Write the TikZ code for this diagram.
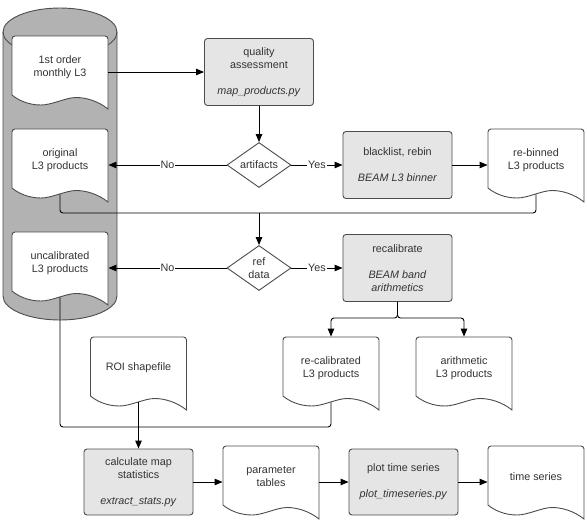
\documentclass[tikz,border=0pt]{standalone}
\usepackage{fontspec}
\setmainfont{Liberation Sans}
\usetikzlibrary{arrows.meta,shapes.geometric}

\tikzset{
  every node/.style={font=\fontsize{10.8}{13}\selectfont, text=black!80, align=center},
  process/.style={draw=black!70, fill=black!10, rounded corners=3pt, line width=0.9pt,
    minimum width=109pt, minimum height=67pt, inner sep=0pt},
  decision/.style={diamond, draw=black!70, fill=white, line width=0.9pt, aspect=1.42,
    minimum width=64pt, minimum height=45pt, inner sep=0pt},
  doctext/.style={minimum width=96pt, minimum height=62pt, inner sep=0pt},
  docline/.style={draw=black!70, fill=white, line width=0.9pt},
  line/.style={draw=black, line width=0.9pt},
  arr/.style={line, -{Triangle[length=8pt,width=6.5pt]}},
  answer/.style={fill=white, inner sep=1pt, midway}
}

% document shape: name, x, y (text centre), text
\newcommand{\docnode}[4]{%
  \draw[docline, shift={(#2,#3)}] (-48,-28) -- (-48,28)
    arc[start angle=180, end angle=90, radius=3pt] -- (45,31)
    arc[start angle=90, end angle=0, radius=3pt] -- (48,-42)
    .. controls (38,-34) and (26,-30.5) .. (16,-30.5)
    .. controls (6,-30.5) and (-8,-38) .. (-19,-38)
    .. controls (-32,-38) and (-42,-33) .. (-48,-28) -- cycle
    (0,0) node[doctext] (#1) {#4};
}

\begin{document}
\begin{tikzpicture}[x=1pt, y=1pt]
\useasboundingbox (0,0) rectangle (587,-523);

% storage cylinder
\draw[draw=black!70, fill=black!30, line width=0.9pt] (3,-32) -- (3,-296)
  arc[start angle=180, end angle=360, x radius=57pt, y radius=24pt] -- (117,-32)
  arc[start angle=0, end angle=180, x radius=57pt, y radius=24pt] -- cycle;
\draw[black!70, line width=0.9pt] (3,-32)
  arc[start angle=180, end angle=360, x radius=57pt, y radius=24pt];

% documents
\foreach \nm/\x/\y/\txt in {
  monthly/60/-67/{1st order\\monthly L3},
  original/60/-160/{original\\L3 products},
  uncal/60/-263/{uncalibrated\\L3 products},
  rebinned/536/-160/{re-binned\\L3 products},
  roi/138.5/-368/{ROI shapefile},
  recalib/331/-368/{re-calibrated\\L3 products},
  arith/464/-368/{arithmetic\\L3 products},
  params/271/-477/{parameter\\tables},
  tseries/536/-477/{time series}}
  \docnode{\nm}{\x}{\y}{\txt};

% processes and decisions
\node[process] (quality) at (259,-72) {quality\\assessment\\[13pt]\textit{map\_products.py}};
\node[decision] (artifacts) at (259,-165) {artifacts};
\node[process] (rebin) at (397.5,-165) {blacklist, rebin\\[13pt]\textit{BEAM L3 binner}};
\node[decision] (refdata) at (259,-268) {ref\\data};
\node[process] (recal) at (397.5,-268) {recalibrate\\[13pt]\textit{BEAM band}\\\textit{arithmetics}};
\node[process, minimum height=66pt] (stats) at (138.5,-482) {calculate map\\statistics\\[13pt]\textit{extract\_stats.py}};
\node[process, minimum height=66pt] (plotts) at (403.5,-482) {plot time series\\[13pt]\textit{plot\_timeseries.py}};

\coordinate (merge) at (259,-213);
\coordinate (split) at (397.5,-318);
\coordinate (collect) at (138.5,-427);

% connectors
\draw[arr] ([yshift=-5pt]monthly.east) -- (quality.west);
\draw[arr] (quality.south) -- (artifacts.north);
\draw[arr] (artifacts.west) -- node[answer] {No} ([yshift=-5pt]original.east);
\draw[arr] (artifacts.east) -- node[answer] {Yes} (rebin.west);
\draw[arr] (rebin.east) -- ([yshift=-5pt]rebinned.west);
\draw[line, rounded corners=3pt] ([yshift=-3pt]original.south) |- (merge) -| ([yshift=-3pt]rebinned.south);
\draw[arr] (merge) -- (refdata.north);
\draw[arr] (refdata.west) -- node[answer] {No} ([yshift=-5pt]uncal.east);
\draw[arr] (refdata.east) -- node[answer] {Yes} (recal.west);
\draw[arr, rounded corners=3pt] (recal.south) -- (split) -| (recalib.north);
\draw[arr, rounded corners=3pt] (recal.south) -- (split) -| (arith.north);
\draw[line, rounded corners=3pt] ([yshift=-3pt]uncal.south) |- (collect) -| ([yshift=-3pt]recalib.south);
\draw[arr] ([yshift=-3pt]roi.south) -- (stats.north);
\draw[arr] (stats.east) -- ([yshift=-5pt]params.west);
\draw[arr] ([yshift=-5pt]params.east) -- (plotts.west);
\draw[arr] (plotts.east) -- ([yshift=-5pt]tseries.west);
\end{tikzpicture}
\end{document}
